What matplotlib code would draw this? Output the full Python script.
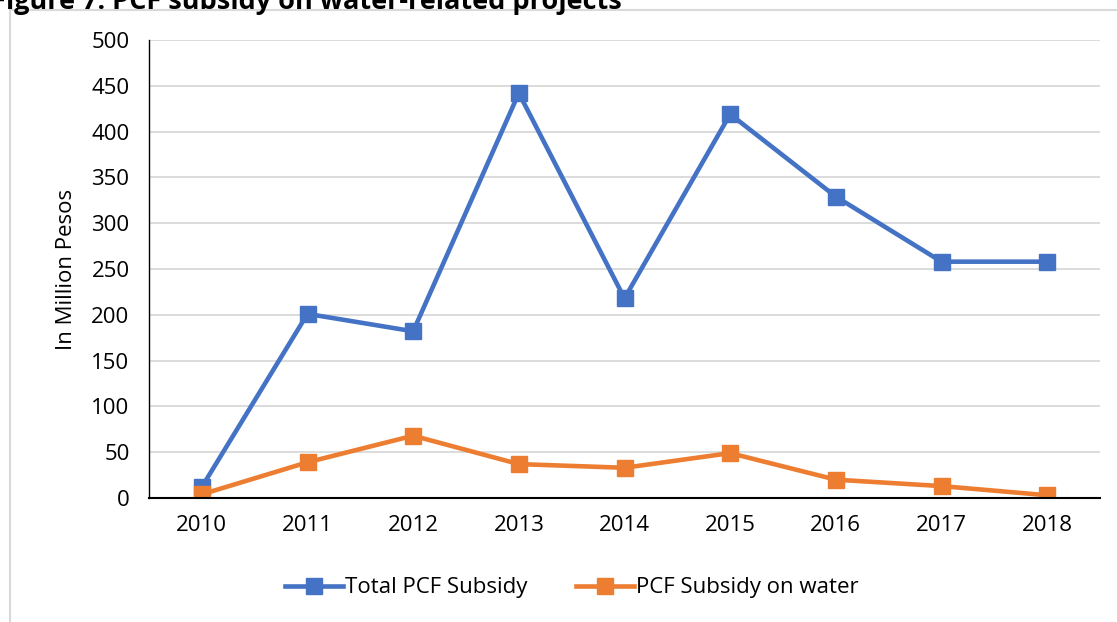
import matplotlib.pyplot as plt
from matplotlib.patches import Rectangle
from matplotlib.lines import Line2D

plt.rcParams['font.family'] = ['Open Sans', 'DejaVu Sans']

years = ['2010', '2011', '2012', '2013', '2014', '2015', '2016', '2017', '2018']
total_pcf = [12, 201, 182, 442, 218, 419, 329, 258, 258]
pcf_water = [4, 39, 68, 37, 33, 49, 20, 13, 3]

blue = '#4472c4'
orange = '#ed7d31'

fig = plt.figure(figsize=(11.17, 6.22), dpi=100)
# outer chart border (grey frame)
fig.add_artist(Rectangle((10 / 1117, -0.1), 1.2, (612 / 622) + 0.1, transform=fig.transFigure,
                         fill=False, edgecolor='#d9d9d9', linewidth=1.5))
# title, cropped at the top like the source
fig.text(-0.008, 1.0 - 2 / 622, 'Figure 7: PCF subsidy on water-related projects', fontsize=19.5,
         fontweight='bold', ha='left', va='center')

ax = fig.add_axes([149 / 1117, 124 / 622, 951 / 1117, 458 / 622])
x = list(range(len(years)))
ax.plot(x, total_pcf, color=blue, lw=3.3, marker='s', ms=11, label='Total PCF Subsidy')
ax.plot(x, pcf_water, color=orange, lw=3.3, marker='s', ms=11, label='PCF Subsidy on water')

ax.set_xlim(-0.5, len(years) - 0.5)
ax.set_ylim(0, 500)
ax.set_yticks(range(0, 501, 50))
ax.set_xticks(x)
ax.set_xticklabels(years)
ax.tick_params(length=0, labelsize=16, pad=12)
ax.tick_params(axis='y', pad=14)
ax.grid(axis='y', color='#d9d9d9', lw=1.3)
ax.set_axisbelow(True)
for s in ['top', 'right']:
    ax.spines[s].set_visible(False)
ax.spines['left'].set_color('black')
ax.spines['bottom'].set_color('black')
ax.spines['bottom'].set_linewidth(1.5)
ax.spines['left'].set_linewidth(1.0)
ax.set_ylabel('In Million Pesos', fontsize=16, labelpad=10)

handles = [Line2D([], [], color=blue, lw=3.3, marker='s', ms=11),
           Line2D([], [], color=orange, lw=3.3, marker='s', ms=11)]
fig.legend(handles, ['Total PCF Subsidy', 'PCF Subsidy on water'], loc='center',
           bbox_to_anchor=(572 / 1117, 1 - 588 / 622), ncol=2, frameon=False, fontsize=16,
           handlelength=2.6, handletextpad=0.1, columnspacing=2.2)

fig.savefig('out.png', dpi=100)
